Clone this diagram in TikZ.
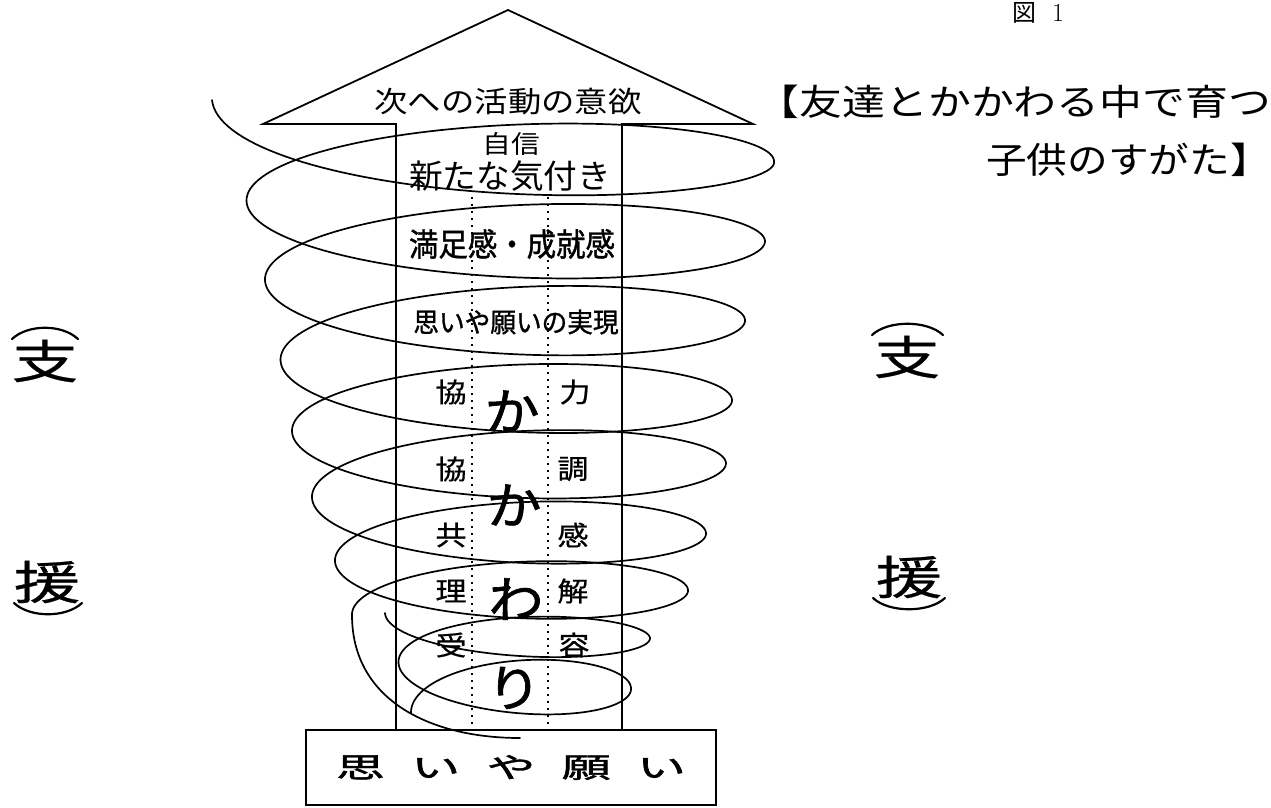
\documentclass[tikz,border=0pt]{standalone}
\usepackage{fontspec}
\newfontfamily\jp{Noto Sans CJK JP}
\newfontfamily\jpb[FakeBold=1.2]{Noto Sans CJK JP}
\newfontfamily\jpm[FakeBold=0.6]{Noto Sans CJK JP}
\newcommand\fsz[1]{\fontsize{#1pt}{#1pt}\selectfont}
\tikzset{
  lbl/.style={inner sep=0pt, outer sep=0pt},
  spiral/.style={line width=1.7pt, line cap=round, line join=round},
  outline/.style={line width=1.8pt, line join=miter},
  dots/.style={line width=2pt, dash pattern=on 2pt off 5pt},
  paren/.style={line width=2.2pt, line cap=round},
}
% front (lower) half of a turn: cx0 a0 b0 y0 -> cx1 a1 b1 y1
\newcommand\frontarc[8]{\draw[spiral] plot[domain=0:180,samples=73,variable=\s]
  ({#1+(#5-(#1))*\s/180-(#2+(#6-(#2))*\s/180)*cos(\s)},{#4+(#8-(#4))*\s/180+(#3+(#7-(#3))*\s/180)*sin(\s)});}
% back (upper) half of a turn
\newcommand\backarc[8]{\draw[spiral] plot[domain=0:180,samples=73,variable=\s]
  ({#1+(#5-(#1))*\s/180+(#2+(#6-(#2))*\s/180)*cos(\s)},{#4+(#8-(#4))*\s/180-(#3+(#7-(#3))*\s/180)*sin(\s)});}
\begin{document}
\begin{tikzpicture}[x=1pt,y=-1pt]
\useasboundingbox (0,0) rectangle (1271,807);
\fill[white] (0,0) rectangle (1271,807);

% arrow outline
\draw[outline] (396,730) -- (396,124) -- (263,124) -- (508,10) -- (753,124) -- (622,124) -- (622,730);
% dotted dividers
\draw[dots] (472,197) -- (472,730);
\draw[dots] (548,197) -- (548,730);

% bottom box
\node[draw, line width=1.8pt, minimum width=410pt, minimum height=75pt, inner sep=0pt] (box) at (511,767.5) {};
\node[lbl, font={\jpb\fsz{28}}, xscale=1.75] (boxtxt) at (box.center) {思\hspace{15pt}い\hspace{15pt}や\hspace{15pt}願\hspace{15pt}い};

% texts inside the arrow
\node[lbl, font={\jp\fsz{29}}, xscale=1.15] (t1) at (508,102) {次への活動の意欲};
\node[lbl, font={\jp\fsz{25}}, xscale=1.15] (t2) at (511,144) {自信};
\node[lbl, font={\jp\fsz{33}}, xscale=1.02] (t3) at (510,176) {新たな気付き};
\node[lbl, font={\jpb\fsz{32}}, xscale=0.92] (t4) at (512,244) {満足感・成就感};
\node[lbl, font={\jpb\fsz{27}}, xscale=0.95] (t5) at (516,322) {思いや願いの実現};

\node[lbl, font={\jpm\fsz{27}}, xscale=1.15] (a1) at (451,392) {協};
\node[lbl, font={\jpm\fsz{27}}, xscale=1.15] (b1) at (575,392) {力};
\node[lbl, font={\jpm\fsz{27}}, xscale=1.15] (a2) at (451,469) {協};
\node[lbl, font={\jpm\fsz{27}}, xscale=1.15] (b2) at (573,469) {調};
\node[lbl, font={\jpm\fsz{27}}, xscale=1.15] (a3) at (451,535) {共};
\node[lbl, font={\jpm\fsz{27}}, xscale=1.15] (b3) at (573,535) {感};
\node[lbl, font={\jpm\fsz{27}}, xscale=1.15] (a4) at (451,591) {理};
\node[lbl, font={\jpm\fsz{27}}, xscale=1.15] (b4) at (573,591) {解};
\node[lbl, font={\jpm\fsz{27}}, xscale=1.15] (a5) at (451,645) {受};
\node[lbl, font={\jpm\fsz{27}}, xscale=1.15] (b5) at (574,645) {容};

\node[lbl, font={\jpb\fsz{50}}, xscale=1.1] (k1) at (512,411) {か};
\node[lbl, font={\jpb\fsz{50}}, xscale=1.1] (k2) at (514,505) {か};
\node[lbl, font={\jpb\fsz{50}}, xscale=1.1] (k3) at (516,599) {わ};
\node[lbl, font={\jpb\fsz{50}}, xscale=1.1] (k4) at (514,688) {り};

% spiral, main stroke
\frontarc{507}{295}{70}{100}{507}{267}{56}{161}
\backarc{507}{267}{56}{161}{508}{261.5}{56}{201}
\frontarc{508}{261.5}{56}{201}{509}{256}{56}{241}
\backarc{509}{256}{56}{241}{510}{245}{54.5}{280.5}
\frontarc{510}{245}{54.5}{280.5}{511}{234}{53}{320}
\backarc{511}{234}{53}{320}{509.5}{229}{52}{360}
\frontarc{509.5}{229}{52}{360}{508}{224}{51}{400}
\backarc{508}{224}{51}{400}{510.5}{218.5}{50.5}{431.5}
\frontarc{510.5}{218.5}{50.5}{431.5}{513}{213}{50}{463}
\backarc{513}{213}{50}{463}{514}{202}{48}{498}
\frontarc{514}{202}{48}{498}{515}{191}{46}{533}
\backarc{515}{191}{46}{533}{516}{181}{43.5}{561.5}
\frontarc{516}{181}{43.5}{561.5}{517}{171}{41}{590}
\backarc{517}{171}{41}{590}{517}{165}{40}{615}
\coordinate (tailA) at (352,615);
\coordinate (tailB) at (520,738);
\draw[spiral] (tailA) .. controls (352,700) and (430,738) .. (tailB);
% spiral, inner stroke
\frontarc{520}{135}{30}{613}{520}{130}{31}{638}
\backarc{520}{130}{31}{638}{519.5}{121}{35.5}{663}
\frontarc{519.5}{121}{35.5}{663}{519}{112}{40}{688}
\backarc{519}{112}{40}{688}{519}{108}{40}{713}

% side labels (vertical, with brackets)
\node[lbl, font={\jpm\fsz{46}}, xscale=1.45] (ls) at (45,361) {支};
\node[lbl, font={\jpm\fsz{46}}, xscale=1.45] (le) at (47,582) {援};
\node[lbl, font={\jpm\fsz{46}}, xscale=1.45] (rs) at (907,357) {支};
\node[lbl, font={\jpm\fsz{46}}, xscale=1.45] (re) at (909,577) {援};
\draw[paren] (12,339) .. controls (28,324) and (62,324) .. (78,339);
\draw[paren] (14,603) .. controls (30,618) and (66,618) .. (82,603);
\draw[paren] (872,335) .. controls (888,320) and (927,320) .. (943,335);
\draw[paren] (873,598) .. controls (889,613) and (929,613) .. (945,598);

% title
\node[lbl, font={\jp\fsz{24}}] (fig) at (1024,13) {図};
\node[lbl, font={\fsz{26}}] (fignum) at (1058,13) {1};
\node[lbl, font={\jp\fsz{36}}, xscale=1.19, anchor=east] (ti1) at (1271,102) {【友達とかかわる中で育つ};
\node[lbl, font={\jp\fsz{36}}, xscale=1.13, anchor=east] (ti2) at (1271,160) {子供のすがた】};
\end{tikzpicture}
\end{document}
